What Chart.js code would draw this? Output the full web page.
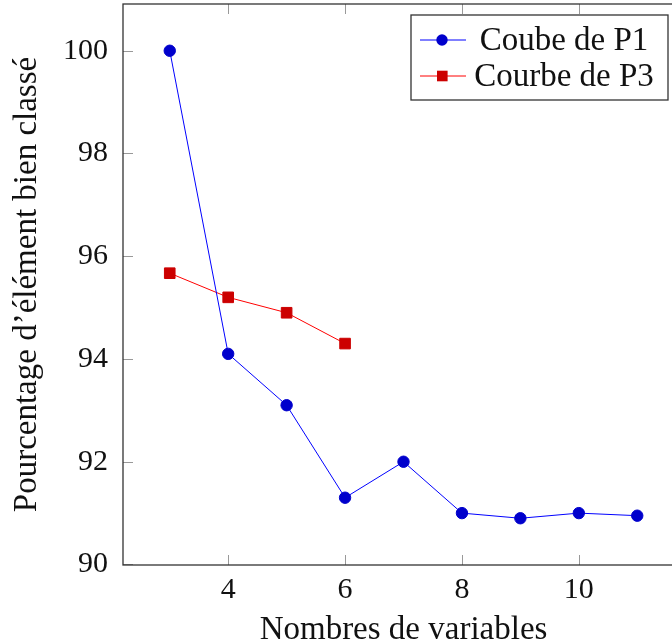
<!DOCTYPE html>
<html>
<head>
<meta charset="utf-8">
<script src="https://cdn.jsdelivr.net/npm/chart.js@4"></script>
<style>
  html, body { margin: 0; padding: 0; background: #fff; overflow: hidden; }
  #wrap { width: 700px; height: 644px; }
</style>
</head>
<body>
<div id="wrap"><canvas id="chart" width="700" height="644"></canvas></div>
<script>
const xValues = [3, 4, 5, 6, 7, 8, 9, 10, 11];
const p1Values = [100, 94.1, 93.1, 91.3, 92, 91, 90.9, 91, 90.95];
const p3Values = [95.67, 95.2, 94.9, 94.3];
const xTicks = [4, 6, 8, 10];
const yTicks = [90, 92, 94, 96, 98, 100];
const seriesLabels = ['Coube de P1', 'Courbe de P3'];

const serif = "'Liberation Serif', 'DejaVu Serif', serif";

// inward ticks, top/right frame and the boxed legend, pgfplots style
const framePlugin = {
    id: 'frame',
    afterDraw(chart) {
        const ctx = chart.ctx;
        const area = chart.chartArea;
        const xs = chart.scales.x;
        const ys = chart.scales.y;
        ctx.save();
        ctx.strokeStyle = '#999';
        ctx.lineWidth = 1;
        ctx.beginPath();
        xTicks.forEach(v => {
            const px = Math.round(xs.getPixelForValue(v)) + 0.5;
            ctx.moveTo(px, area.bottom);
            ctx.lineTo(px, area.bottom - 10);
            ctx.moveTo(px, area.top);
            ctx.lineTo(px, area.top + 10);
        });
        yTicks.forEach(v => {
            const py = Math.round(ys.getPixelForValue(v)) + 0.5;
            ctx.moveTo(area.left, py);
            ctx.lineTo(area.left + 10, py);
            ctx.moveTo(area.right, py);
            ctx.lineTo(area.right - 10, py);
        });
        ctx.stroke();

        ctx.strokeStyle = '#333';
        ctx.lineWidth = 1.3;
        ctx.strokeRect(area.left, area.top, area.right - area.left, area.bottom - area.top);

        // legend
        const bw = 257, bh = 85;
        const bx = area.right - 16 - bw;
        const by = area.top + 11;
        ctx.fillStyle = '#fff';
        ctx.fillRect(bx, by, bw, bh);
        ctx.strokeStyle = '#333';
        ctx.lineWidth = 1.3;
        ctx.strokeRect(bx, by, bw, bh);
        chart.data.datasets.forEach((ds, i) => {
            const cy = by + 25 + i * 36;
            ctx.strokeStyle = ds.borderColor;
            ctx.lineWidth = 1;
            ctx.beginPath();
            ctx.moveTo(bx + 9, cy);
            ctx.lineTo(bx + 55, cy);
            ctx.stroke();
            ctx.fillStyle = ds.pointBackgroundColor;
            if (ds.pointStyle === 'circle') {
                ctx.beginPath();
                ctx.arc(bx + 31, cy, 5.7, 0, Math.PI * 2);
                ctx.fill();
            } else {
                ctx.fillRect(bx + 26, cy - 5.3, 10.6, 10.6);
            }
            ctx.fillStyle = '#111';
            ctx.font = '33px ' + serif;
            ctx.textAlign = 'center';
            ctx.textBaseline = 'middle';
            ctx.fillText(ds.label, bx + 153, cy + 1);
        });
        ctx.restore();
    }
};

new Chart(document.getElementById('chart'), {
    type: 'line',
    data: {
        labels: xValues,
        datasets: [
            {
                label: seriesLabels[0],
                data: xValues.map((x, i) => ({ x: x, y: p1Values[i] })),
                borderColor: '#0000ff',
                backgroundColor: '#0000cc',
                pointBackgroundColor: '#0000cc',
                pointBorderColor: '#0000cc',
                pointStyle: 'circle',
                pointRadius: 5.7,
                borderWidth: 1,
                tension: 0
            },
            {
                label: seriesLabels[1],
                data: p3Values.map((y, i) => ({ x: xValues[i], y: y })),
                borderColor: '#ff0000',
                backgroundColor: '#cc0000',
                pointBackgroundColor: '#cc0000',
                pointBorderColor: '#cc0000',
                pointStyle: 'rect',
                pointRadius: 7.5,
                borderWidth: 1,
                tension: 0
            }
        ]
    },
    options: {
        responsive: false,
        animation: false,
        layout: { autoPadding: false, padding: { top: 4, right: 16, left: 0, bottom: 0 } },
        plugins: {
            legend: { display: false },
            tooltip: { enabled: false }
        },
        scales: {
            x: {
                type: 'linear',
                min: 2.2,
                max: 11.8,
                afterBuildTicks: scale => { scale.ticks = xTicks.map(v => ({ value: v })); },
                afterFit: scale => {
                    scale.height = 79;
                    scale.paddingLeft = 0;
                    scale.paddingRight = 0;
                },
                grid: { display: false, drawTicks: false },
                border: { display: false },
                ticks: {
                    padding: 7,
                    color: '#111',
                    font: { family: serif, size: 30 }
                },
                title: {
                    display: true,
                    text: 'Nombres de variables',
                    color: '#111',
                    font: { family: serif, size: 33, lineHeight: 0.8 },
                    padding: { top: 0, bottom: 0 }
                }
            },
            y: {
                min: 89.99,
                max: 100.91,
                afterBuildTicks: scale => { scale.ticks = yTicks.map(v => ({ value: v })); },
                afterFit: scale => {
                    scale.width = 123;
                    scale.paddingTop = 0;
                    scale.paddingBottom = 0;
                },
                grid: { display: false, drawTicks: false },
                border: { display: false },
                ticks: {
                    padding: 15,
                    color: '#111',
                    font: { family: serif, size: 30 }
                },
                title: {
                    display: true,
                    text: 'Pourcentage d’élément bien classé',
                    color: '#111',
                    font: { family: serif, size: 33, lineHeight: 1.2 },
                    padding: { top: 8, bottom: 0 }
                }
            }
        }
    },
    plugins: [framePlugin]
});
</script>
</body>
</html>
